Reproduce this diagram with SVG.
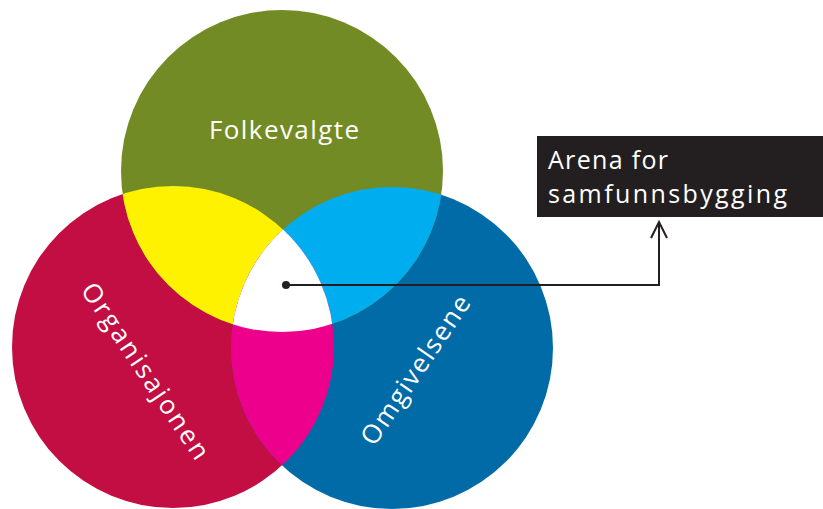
<svg xmlns="http://www.w3.org/2000/svg" width="823" height="509" viewBox="0 0 823 509">
<style>
.lbl{font-family:"Open Sans","Liberation Sans",sans-serif;fill:#ffffff;}
.conn{fill:none;stroke:#231f20;stroke-width:2;}
</style>
<defs>
<clipPath id="cRed"><circle cx="173" cy="347" r="161"/></clipPath>
<clipPath id="cBlue"><circle cx="392" cy="348" r="161"/></clipPath>
<clipPath id="cRedBlue" clip-path="url(#cRed)"><circle cx="392" cy="348" r="161"/></clipPath>
</defs>
<rect width="823" height="509" fill="#ffffff"/>
<g id="organisasjonen">
<circle cx="173" cy="347" r="161" fill="#c20e42"/>
</g>
<g id="omgivelsene">
<circle cx="392" cy="348" r="161" fill="#006ba6"/>
</g>
<g id="folkevalgte">
<circle cx="282" cy="171" r="161" fill="#738b24"/>
</g>
<g id="overlaps">
<circle cx="282" cy="171" r="161" fill="#fff200" clip-path="url(#cRed)"/>
<circle cx="282" cy="171" r="161" fill="#00aeef" clip-path="url(#cBlue)"/>
<circle cx="173" cy="347" r="161" fill="#ec008c" clip-path="url(#cBlue)"/>
<circle cx="282" cy="171" r="161" fill="#ffffff" clip-path="url(#cRedBlue)"/>
</g>
<g id="labels">
<text class="lbl" x="284" y="139" font-size="26" text-anchor="middle" textLength="150" lengthAdjust="spacing">Folkevalgte</text>
<text class="lbl" font-size="26" text-anchor="middle" textLength="207" lengthAdjust="spacing" transform="translate(138,376) rotate(56)">Organisajonen</text>
<text class="lbl" font-size="26" text-anchor="middle" textLength="174" lengthAdjust="spacing" transform="translate(423,375) rotate(-56)">Omgivelsene</text>
</g>
<g id="arena">
<rect x="537" y="136" width="286" height="81" fill="#231f20"/>
<text class="lbl" x="548" y="169" font-size="25" textLength="120" lengthAdjust="spacing">Arena for</text>
<text class="lbl" x="548" y="203" font-size="25" textLength="239" lengthAdjust="spacing">samfunnsbygging</text>
</g>
<g id="connectors">
<circle cx="286" cy="285" r="4" fill="#231f20"/>
<polyline class="conn" points="286,285 659,285 659,222"/>
<polyline class="conn" points="651,238 659,222 667,238"/>
</g>
</svg>
